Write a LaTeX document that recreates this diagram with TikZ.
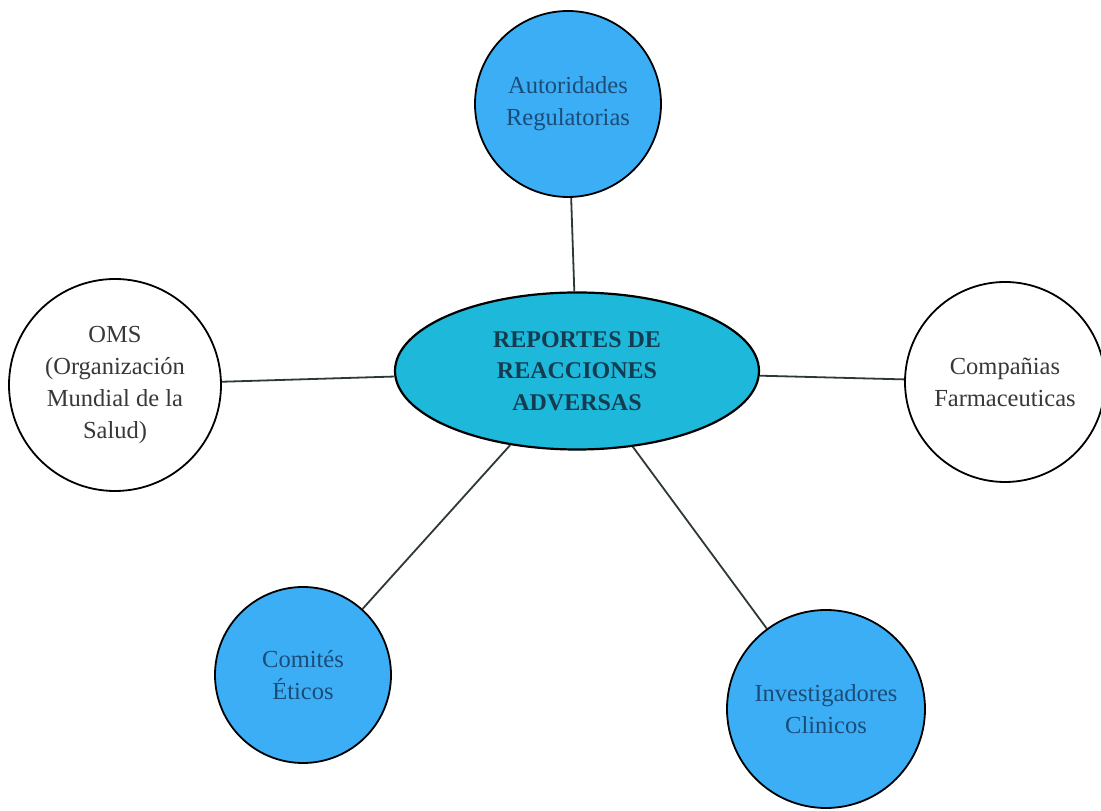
\documentclass[tikz,border=0pt]{standalone}
\usepackage{fontspec}
\setmainfont{Liberation Serif}
\usepackage{xcolor}
\usetikzlibrary{shapes.geometric}

\definecolor{azul}{HTML}{3BAEF6}
\definecolor{turquesa}{HTML}{1DB8DA}
\definecolor{textoazul}{HTML}{1B4C78}
\definecolor{textocentro}{HTML}{143C50}
\definecolor{linea}{HTML}{2E3838}

\begin{document}
\begin{tikzpicture}[
  x=1pt, y=1pt,
  font=\fontsize{24.5}{32}\selectfont,
  actor/.style={
    draw=black, line width=1.8pt, circle, align=center, inner sep=0pt
  },
  azulactor/.style={actor, fill=azul, text=textoazul},
  blancoactor/.style={actor, fill=white, text=black!78},
  centro/.style={
    draw=black, line width=2.2pt, ellipse, fill=turquesa, align=center,
    text=textocentro, font=\fontsize{24}{31.5}\selectfont\bfseries,
    minimum width=364pt, minimum height=157pt, inner sep=0pt
  },
  enlace/.style={draw=linea, line width=1.8pt}
]
\path[use as bounding box, fill=white] (0,0) rectangle (1101,811);

\node[centro] (reportes) at (577,440) {REPORTES DE\\REACCIONES\\ADVERSAS};

% actores alrededor del centro
\node[azulactor, minimum size=186pt] (autoridades) at (568,707) {Autoridades\\Regulatorias};
\node[blancoactor, minimum size=212pt] (oms) at (115,426) {OMS\\(Organización\\Mundial de la\\Salud)};
\node[blancoactor, minimum size=200pt] (companias) at (1005,429) {Compañias\\Farmaceuticas};
\node[azulactor, minimum size=176pt] (comites) at (303,136) {Comités\\Éticos};
\node[azulactor, minimum size=198pt] (investigadores) at (826,102) {Investigadores\\Clinicos};

\draw[enlace] (reportes) -- (autoridades);
\draw[enlace] (reportes) -- (oms);
\draw[enlace] (reportes) -- (companias);
\draw[enlace] (reportes) -- (comites);
\draw[enlace] (reportes) -- (investigadores);

\end{tikzpicture}
\end{document}
